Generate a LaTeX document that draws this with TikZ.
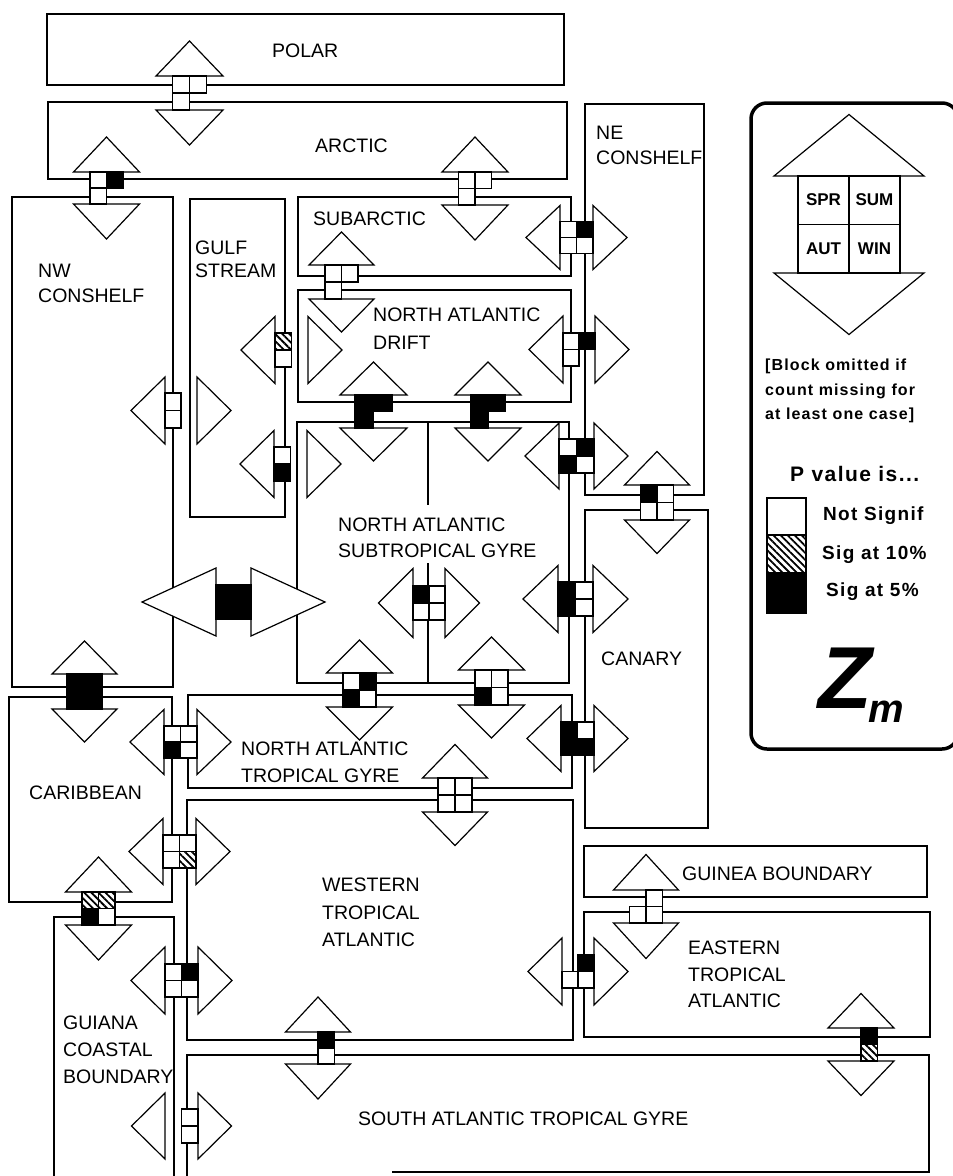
\documentclass[tikz,border=0pt]{standalone}
\usepackage{fontspec}
\setmainfont{Liberation Sans}
\newfontfamily\legfont{Liberation Sans}[LetterSpace=7]
\usetikzlibrary{patterns.meta}
\tikzset{
  region/.style={draw, line width=1.2pt},
  tri/.style={draw, fill=white, line width=1.2pt, line join=miter},
  cellw/.style={draw, fill=white, line width=1.2pt},
  cellb/.style={draw, fill=black, line width=1.2pt},
  cellh/.style={draw, line width=1.2pt, preaction={fill=white}, pattern={Lines[angle=-45,distance=5pt,line width=1.8pt]}},
  lab/.style={anchor=west, inner sep=0pt, font=\fontsize{19.5}{21}\selectfont},
  leg/.style={anchor=west, inner sep=0pt, font=\legfont\bfseries\fontsize{16}{18}\selectfont},
  celltext/.style={inner sep=0pt, font=\bfseries\fontsize{17}{17}\selectfont},
}
\def\zsplit#1#2#3#4\relax{\def\zA{#1}\def\zB{#2}\def\zC{#3}\def\zD{#4}}
\newcommand\zcell[5]{%
  \if#5W\draw[cellw] (#1,#2) rectangle ++(#3,#4);\fi
  \if#5B\draw[cellb] (#1,#2) rectangle ++(#3,#4);\fi
  \if#5H\draw[cellh] (#1,#2) rectangle ++(#3,#4);\fi}
% vertical connector: cx, ytop of block, sx, sy, half-width, height, cells
\newcommand\vconn[7]{%
  \zsplit#7\relax
  \draw[tri] (#1-#5,#2) -- (#1,#2-#6) -- (#1+#5,#2) -- cycle;
  \draw[tri] (#1-#5,#2+2*#4) -- (#1,#2+2*#4+#6) -- (#1+#5,#2+2*#4) -- cycle;
  \zcell{#1-#3}{#2}{#3}{#4}{\zA}%
  \zcell{#1}{#2}{#3}{#4}{\zB}%
  \zcell{#1-#3}{#2+#4}{#3}{#4}{\zC}%
  \zcell{#1}{#2+#4}{#3}{#4}{\zD}%
}
% horizontal connector: xleft of block, cy, sx, sy, half-width, length, cells
\newcommand\hconn[7]{%
  \zsplit#7\relax
  \draw[tri] (#1,#2-#5) -- (#1-#6,#2) -- (#1,#2+#5) -- cycle;
  \draw[tri] (#1+2*#3,#2-#5) -- (#1+2*#3+#6,#2) -- (#1+2*#3,#2+#5) -- cycle;
  \zcell{#1}{#2-#4}{#3}{#4}{\zA}%
  \zcell{#1+#3}{#2-#4}{#3}{#4}{\zB}%
  \zcell{#1}{#2}{#3}{#4}{\zC}%
  \zcell{#1+#3}{#2}{#3}{#4}{\zD}%
}
\begin{document}
\begin{tikzpicture}[x=1pt,y=-1pt]
\useasboundingbox[fill=white] (0,0) rectangle (953,1176);
% regions
\draw[region] (47,14) rectangle (564,85);
\draw[region] (48,102) rectangle (567,179);
\draw[region] (12,197) rectangle (173,687);
\draw[region] (190,199) rectangle (285,517);
\draw[region] (298,197) rectangle (571,276);
\draw[region] (298,290) rectangle (571,402);
\draw[region] (297,422) rectangle (569,683);
\draw[region] (428,422) -- (428,505);
\draw[region] (428,563) -- (428,683);
\draw[region] (585,104) rectangle (704,495);
\draw[region] (585,510) rectangle (708,828);
\draw[region] (188,695) rectangle (572,788);
\draw[region] (187,800) rectangle (573,1040);
\draw[region] (9,697) rectangle (172,902);
\draw[region] (54,1180) -- (54,917) -- (174,917) -- (174,1180);
\draw[region] (187,1180) -- (187,1055) -- (929,1055) -- (929,1172) -- (392,1172);
\draw[region] (584,846) rectangle (927,897);
\draw[region] (584,912) rectangle (930,1037);
% connectors
\vconn{189.5}{76}{17}{17}{33.5}{35}{WWWN}
\vconn{106.5}{172}{16.5}{16}{33}{35}{WBWN}
\vconn{475}{172}{16.5}{16.5}{33}{35}{WWWN}
\hconn{560}{237.5}{16.5}{16}{32}{34}{WBWW}
\vconn{341.5}{265}{16.5}{17}{32.5}{33}{WWWN}
\hconn{275}{350}{16.5}{17}{33.5}{34}{HNWN}
\hconn{274}{464}{16.5}{17}{33.5}{34}{WNBN}
\hconn{165}{410.5}{16}{17.5}{33.5}{34}{WNWN}
\vconn{373.5}{395}{18.5}{16.5}{33.5}{33}{BBBN}
\vconn{488}{395}{17.5}{16.5}{33}{33}{BBBN}
\hconn{563}{349.5}{16}{16.5}{33.5}{34}{WBWN}
\hconn{559}{456}{17.5}{17}{33}{34}{WBBW}
\vconn{657}{485}{16.5}{17.5}{32.5}{33.5}{BWWW}
\hconn{558}{599}{17.5}{17}{33.5}{35}{BWBW}
\hconn{413}{603}{16}{17}{34.5}{34.5}{BWWW}
\vconn{359.5}{673}{16.5}{17}{33}{33}{WBBW}
\vconn{491.5}{670}{16.5}{17.5}{33}{33}{WWBW}
\hconn{561}{738.5}{16.5}{16.5}{33}{34}{BWBB}
\vconn{455}{778}{17}{17}{32.5}{33.5}{WWWW}
\hconn{216}{602}{17.5}{17.5}{34}{74}{BBBB}
\vconn{84.5}{674}{17.5}{17.5}{32.5}{33}{BBBB}
\hconn{164}{742}{16.5}{16}{32.5}{34}{WWBW}
\hconn{163}{851.5}{16.5}{16.5}{33}{34}{WWWH}
\vconn{98.5}{892}{16.5}{16.5}{33}{35}{HHBW}
\hconn{165}{980.5}{16.5}{16.5}{33.5}{34}{WBWW}
\hconn{165}{1126}{16.5}{17}{33}{33.5}{NWNW}
\vconn{318}{1032}{16.5}{16}{32.5}{35}{NBNW}
\hconn{562}{971.5}{16}{16.5}{33.5}{34}{NBWW}
\vconn{646}{890}{16.5}{16.5}{32.5}{35.5}{NWWW}
\vconn{861}{1028}{16.5}{16.5}{33}{34.5}{NBNH}
% region labels
\node[lab] (polar) at (272,51) {POLAR};
\node[lab] (arctic) at (315,146) {ARCTIC};
\node[lab] (ne1) at (596,133) {NE};
\node[lab] (ne2) at (596,158) {CONSHELF};
\node[lab] (subarc) at (313,219) {SUBARCTIC};
\node[lab] (nw1) at (38,271) {NW};
\node[lab] (nw2) at (38,296) {CONSHELF};
\node[lab] (gulf1) at (195,248) {GULF};
\node[lab] (gulf2) at (195,271) {STREAM};
\node[lab] (nad1) at (373,315) {NORTH ATLANTIC};
\node[lab] (nad2) at (373,343) {DRIFT};
\node[lab] (nasg1) at (338,525) {NORTH ATLANTIC};
\node[lab] (nasg2) at (338,551) {SUBTROPICAL GYRE};
\node[lab] (canary) at (601,659) {CANARY};
\node[lab] (natg1) at (241,749) {NORTH ATLANTIC};
\node[lab] (natg2) at (241,776) {TROPICAL GYRE};
\node[lab] (carib) at (29,793) {CARIBBEAN};
\node[lab] (wta1) at (322,885) {WESTERN};
\node[lab] (wta2) at (322,913) {TROPICAL};
\node[lab] (wta3) at (322,940) {ATLANTIC};
\node[lab] (guinea) at (682,874) {GUINEA BOUNDARY};
\node[lab] (eta1) at (688,948) {EASTERN};
\node[lab] (eta2) at (688,975) {TROPICAL};
\node[lab] (eta3) at (688,1001) {ATLANTIC};
\node[lab] (gui1) at (63,1023) {GUIANA};
\node[lab] (gui2) at (63,1050) {COASTAL};
\node[lab] (gui3) at (63,1077) {BOUNDARY};
\node[lab] (satg) at (358,1119) {SOUTH ATLANTIC TROPICAL GYRE};
% legend
\draw[line width=3.5pt, rounded corners=16pt] (751,103) rectangle (958,749);
\vconn{849}{176}{51}{48.5}{75}{61.5}{WWWW}
\node[celltext] (spr) at (823.5,200) {SPR};
\node[celltext] (sum) at (874.5,200) {SUM};
\node[celltext] (aut) at (823.5,248.5) {AUT};
\node[celltext] (win) at (874.5,248.5) {WIN};
\node[leg] (l1) at (765,366) {[Block omitted if};
\node[leg] (l2) at (765,391) {count missing for};
\node[leg] (l3) at (765,415) {at least one case]};
\node[leg, font=\legfont\bfseries\fontsize{21}{23}\selectfont] (pv) at (790,474) {P value is...};
\draw[cellw] (767,498) rectangle (806,535);
\draw[cellh] (767,535) rectangle (806,573);
\draw[cellb] (767,573) rectangle (806,613);
\node[leg, font=\legfont\bfseries\fontsize{19}{21}\selectfont] (ns) at (823,516) {Not Signif};
\node[leg, font=\legfont\bfseries\fontsize{19}{21}\selectfont] (s10) at (822,555) {Sig at 10\%};
\node[leg, font=\legfont\bfseries\fontsize{19}{21}\selectfont] (s5) at (826,592) {Sig at 5\%};
\node[anchor=base west, inner sep=0pt, font=\fontsize{88}{88}\selectfont\bfseries\itshape] (zbig) at (818,708) {Z};
\node[anchor=base west, inner sep=0pt, font=\fontsize{40}{40}\selectfont\bfseries\itshape] (zsub) at (868,722) {m};
\end{tikzpicture}
\end{document}
